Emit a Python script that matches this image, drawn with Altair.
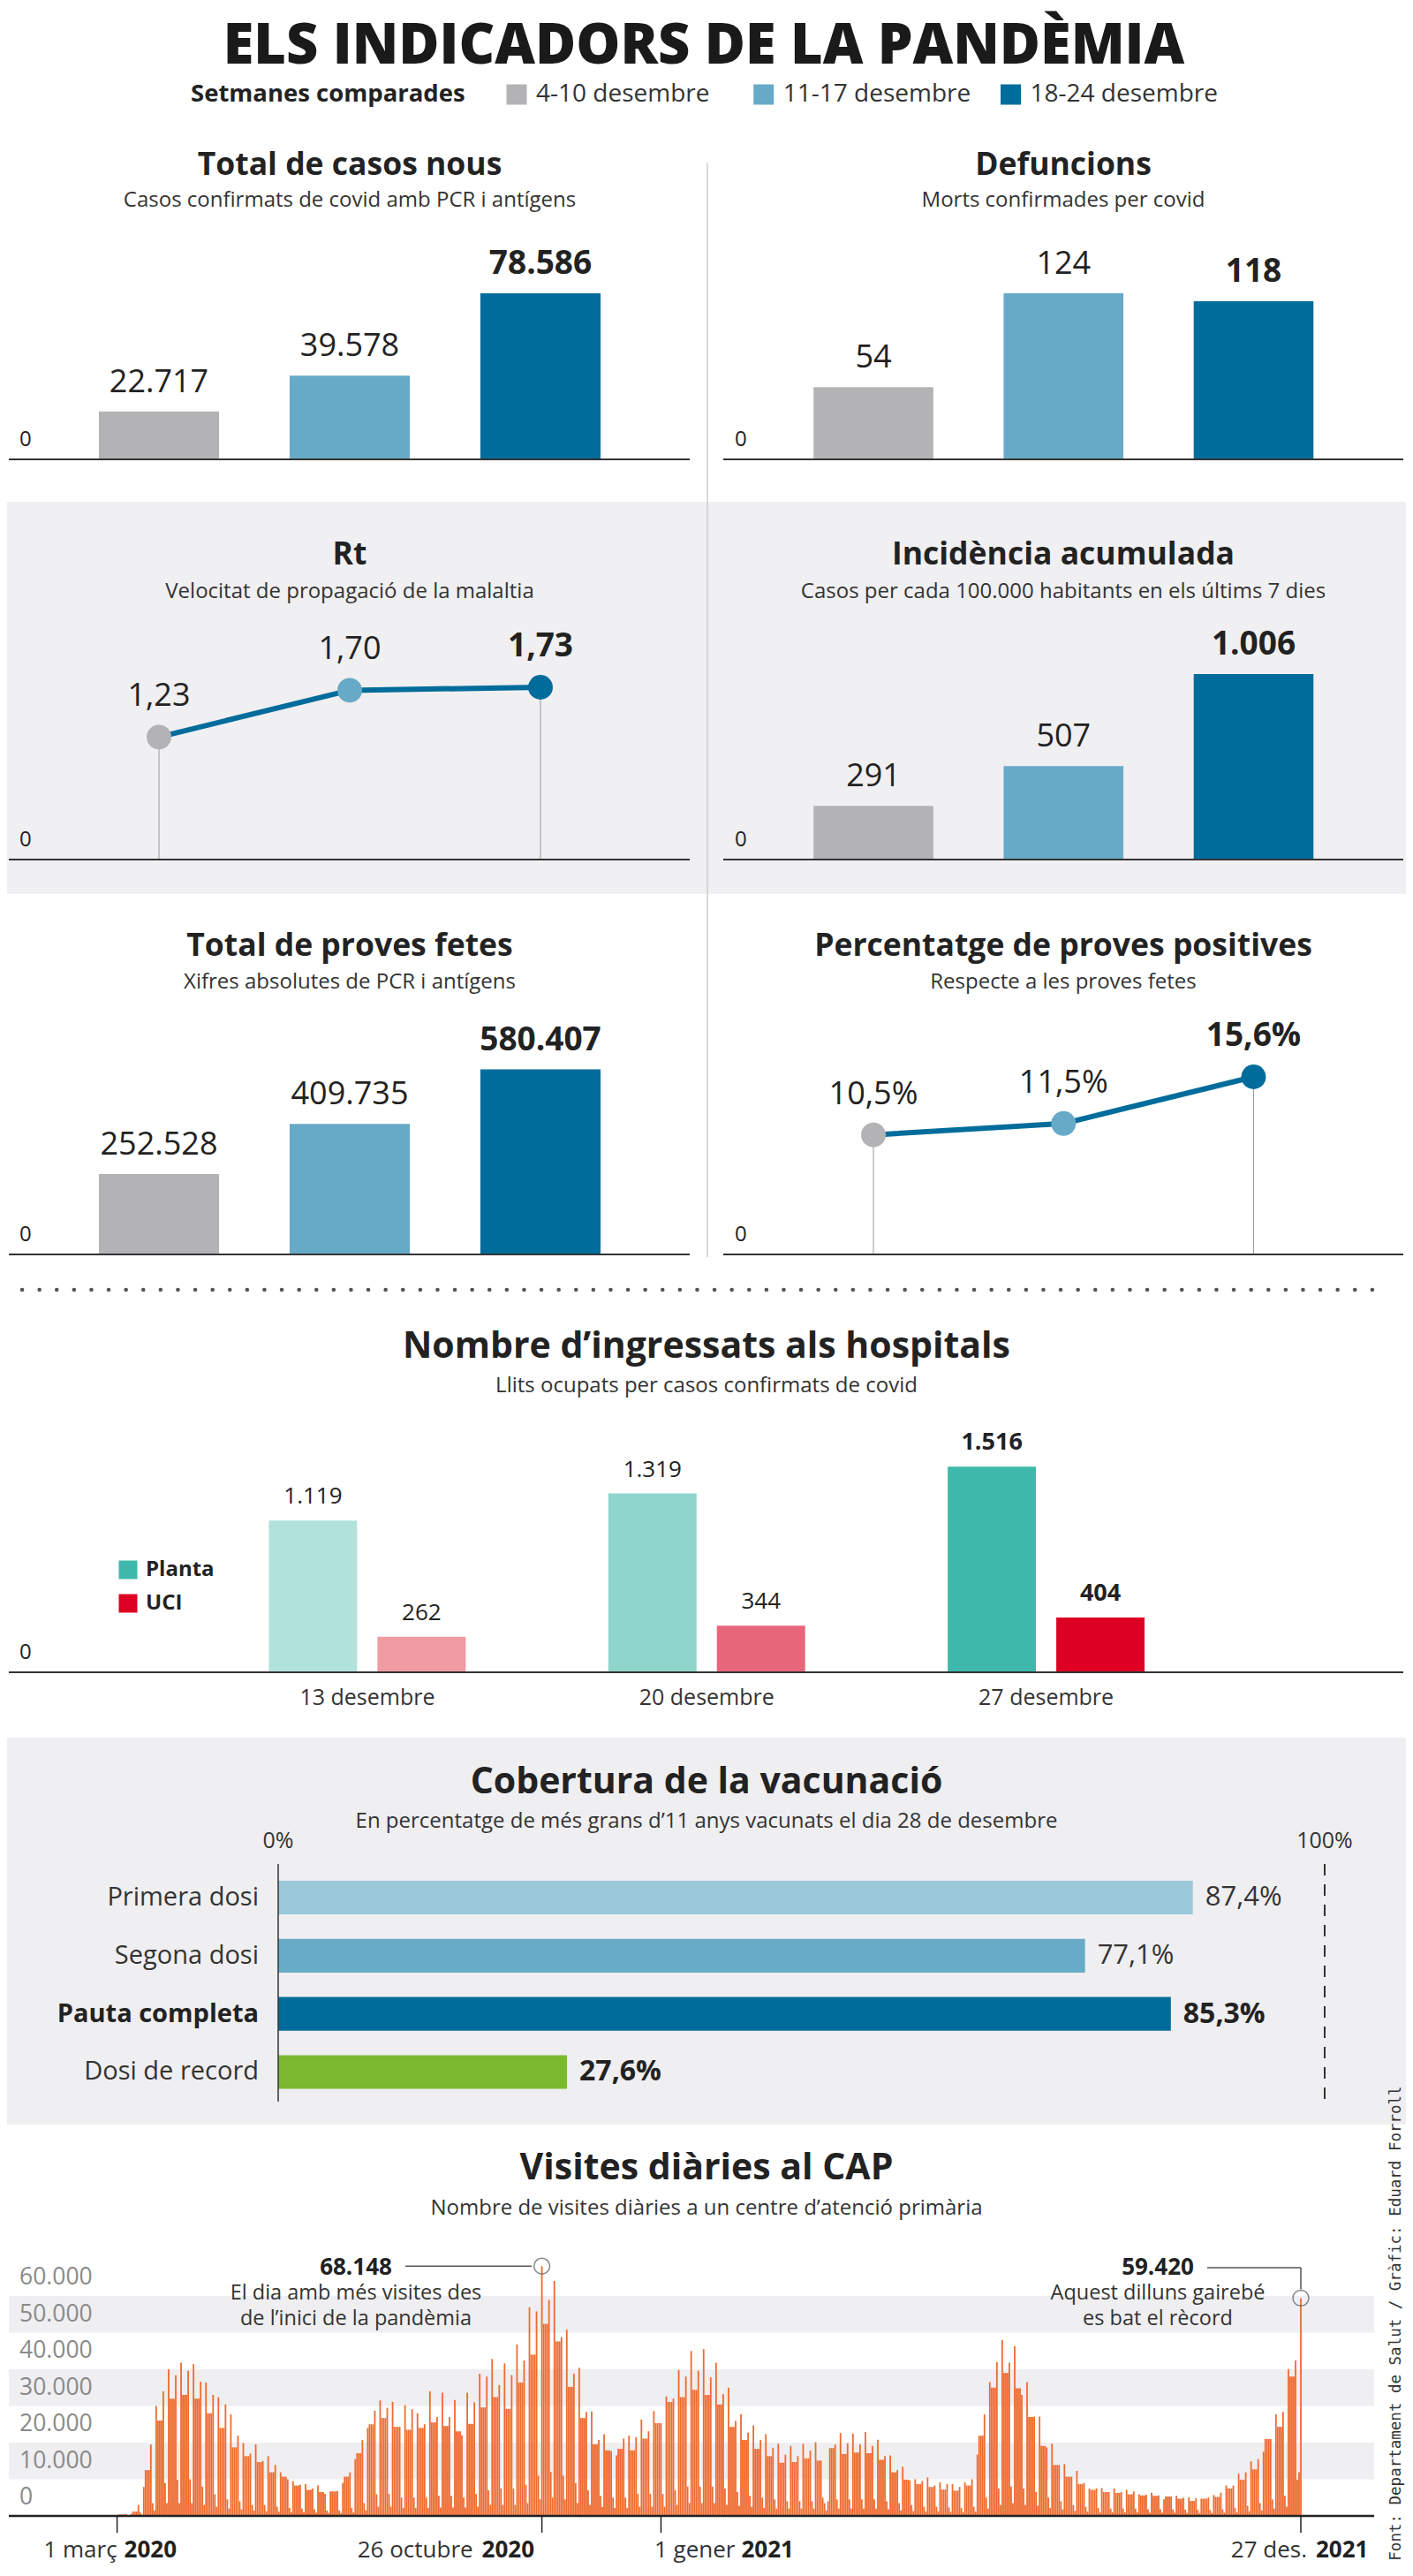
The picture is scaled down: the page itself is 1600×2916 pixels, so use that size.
import altair as alt
import pandas as pd
import datetime as dt

FONT = "Open Sans"
DARK = "#222222"

# ---------------- data ----------------
weeks = ["4-10 desembre", "11-17 desembre", "18-24 desembre"]
week_colors = ["#b3b2b5", "#67aac7", "#006c9c"]

casos = [22717, 39578, 78586]
defuncions = [54, 124, 118]
rt = [1.23, 1.70, 1.73]
incidencia = [291, 507, 1006]
proves = [252528, 409735, 580407]
positivitat = [10.5, 11.5, 15.6]

hosp_dates = ["13 desembre", "20 desembre", "27 desembre"]
hosp_series = ["Planta", "UCI"]
planta = [1119, 1319, 1516]
uci = [262, 344, 404]
planta_colors = ["#b2e2dc", "#8fd5cc", "#3eb8aa"]
uci_colors = ["#f09aa2", "#e86679", "#de0024"]

vac_cats = ["Primera dosi", "Segona dosi", "Pauta completa", "Dosi de record"]
vac_vals = [87.4, 77.1, 85.3, 27.6]
vac_colors = ["#9ac7da", "#67abc6", "#006c9c", "#7bb92f"]

# daily CAP visits, read week by week (thousands): Monday, Tue-Thu, Friday, Saturday, Sunday
cap_first_sunday = 0.1          # Sun 1 March 2020
cap_last_monday = 59.42         # Mon 27 December 2021
cap_mon = [0.4, 0.6, 7.9, 30, 40, 41.8, 41.4, 36.4, 32.4, 27.7,
           19.9, 19.5, 16.3, 11.9, 9.5, 8.7, 8.3, 6.7, 9.0, 15.5,
           24, 31.5, 31.1, 30.2, 28, 34, 33.6, 31.6, 33.6, 38.8,
           42.8, 41.6, 46.8, 56.9, 68.148, 64.1, 50.8, 40.4, 28.5, 22.3,
           16.5, 21.9, 26.3, 28.6, 32.6, 39.8, 45, 45.5, 41.8, 35,
           27.7, 24.7, 22.3, 19.7, 19.1, 19.7, 20.1, 4, 22.6, 22.5,
           22.9, 20.8, 16.5, 13.4, 10, 10.5, 9.2, 8.7, 9.2, 16.7,
           36.5, 48, 46.3, 36.5, 27.1, 19.7, 14.1, 12.3, 7.5, 7.6,
           7.5, 7.1, 5.9, 6.3, 4.5, 5.5, 5.1, 4.7, 5.7, 8.3,
           11.5, 14.9, 17.5, 27.7, 40]
cap_mid = [0.4, 1.2, 12.5, 26, 32, 33, 32, 28, 24, 18.7,
           16.3, 14.7, 11.9, 10.7, 8.3, 7.1, 6.5, 6.7, 10.7, 17.1,
           25, 26.7, 24.3, 23.5, 24, 25.5, 24.5, 23.1, 25.1, 29.6,
           32.4, 29.2, 36.4, 44, 52.4, 47.6, 35.2, 26.7, 19.5, 17.9,
           18.3, 17.9, 21.1, 25.3, 31.1, 32.4, 34.4, 33, 30.4, 24.3,
           20.7, 18.3, 16.3, 14.5, 14.7, 15.7, 15.1, 18.5, 16.9, 17.3,
           17.1, 15.3, 11.9, 9.9, 8.7, 7.9, 7.2, 6.9, 8.3, 21.9,
           35, 39, 34.8, 27, 19.1, 13.9, 10.7, 8.7, 7.1, 6.5,
           6.3, 5.9, 5.6, 5.5, 5.3, 4.7, 4.1, 4.7, 5.2, 7.5,
           9.9, 12.7, 21, 24.3, 38]
cap_fri = [0.5, 3.0, 19.5, 34, 38.4, 39.6, 36.6, 33, 30.4, 21.9,
           17, 15, 13.9, 10, 8.5, 7.5, 6.0, 6.8, 11.9, 20.7,
           28.7, 29.5, 24.3, 29.1, 25, 27, 27, 22, 31, 38,
           35.7, 38.4, 42.4, 55.8, 58.9, 48.8, 38.8, 28.4, 20.7, 17.7,
           21.1, 21.5, 23.1, 25.3, 32, 38, 39.6, 37.8, 33.2, 25.9,
           22.7, 20.7, 18.6, 16.7, 16.3, 17.8, 5, 19.5, 19.8, 19.5,
           19.1, 16.3, 12.5, 9.7, 9.5, 8.3, 8.7, 7.9, 10, 27.7,
           42, 41.8, 33, 27.1, 18.7, 13.9, 10.7, 9, 7.5, 6.5,
           6.5, 6.7, 5.8, 5.6, 5.3, 5.0, 4.8, 5.0, 6.3, 8.3,
           11.9, 15.5, 21, 28.4, 42.4]
cap_sat = [0.2, 1.0, 3.5, 9, 9.9, 10, 8, 5.9, 4.5, 4,
           3, 3, 2.5, 2.2, 2, 1.8, 1.5, 1.5, 2.2, 3.5,
           5.9, 6, 5, 5, 5, 5.5, 5.5, 5, 6, 7,
           7.5, 7.5, 8.5, 11, 12, 11, 9, 7, 5.5, 5,
           5, 6, 6, 6, 7, 8, 8, 8, 7.5, 6.5,
           5.5, 5, 4.5, 4, 4, 4, 3.5, 4.5, 4.5, 4.5,
           4.5, 4, 3.5, 3, 2.5, 2.5, 2.3, 2.2, 2.5, 5,
           7.5, 8, 7.5, 6.5, 5, 4, 3, 2.5, 2.2, 2,
           2, 2, 1.8, 1.8, 1.8, 1.7, 1.6, 1.6, 1.8, 2.2,
           2.8, 3.5, 4.5, 5.5, 9.9]
cap_sun = [0.1, 0.4, 1.5, 3.5, 3.5, 3.5, 3, 2.5, 2, 1.8,
           1.5, 1.3, 1.2, 1, 1, 0.9, 0.8, 0.8, 1, 1.5,
           2.5, 2.5, 2.2, 2.2, 2.2, 2.3, 2.3, 2.3, 2.5, 3,
           3, 3, 3.5, 4.5, 5, 4.5, 3.5, 3, 2.5, 2.2,
           2.2, 2.5, 2.5, 2.5, 3, 3.5, 3.5, 3.5, 3, 2.8,
           2.5, 2.2, 2, 2, 2, 2, 1.5, 2, 2, 2,
           2, 1.8, 1.5, 1.3, 1.2, 1.2, 1.1, 1, 1.2, 2,
           3, 3.5, 3, 2.8, 2.2, 1.8, 1.4, 1.2, 1, 1,
           1, 1, 0.9, 0.9, 0.9, 0.8, 0.8, 0.8, 0.9, 1,
           1.3, 1.5, 2, 2.5, 11.9]
cap_ticks = [0, 10000, 20000, 30000, 40000, 50000, 60000]
cap_bands_lo = [10000, 30000, 50000]
cap_bands_hi = [20000, 40000, 60000]
cap_tick_dates = ["2020-03-01", "2020-10-26", "2021-01-01", "2021-12-27"]
cap_tick_text = ["1 març", "26 octubre", "1 gener", "27 des."]
cap_tick_year = ["2020", "2020", "2021", "2021"]
ann_dates = ["2020-10-26", "2021-12-27"]
ann_vals = [68148, 59420]


def cat_num(v, dec=0):
    s = f"{v:,.{dec}f}"
    return s.replace(",", "X").replace(".", ",").replace("X", ".")


# daily table
daily = [cap_first_sunday]
for w in range(len(cap_mon)):
    daily += [cap_mon[w], cap_mid[w], cap_mid[w], cap_mid[w], cap_fri[w], cap_sat[w], cap_sun[w]]
daily.append(cap_last_monday)
start = dt.date(2020, 3, 1)
cap_df = pd.DataFrame({
    "date": [(start + dt.timedelta(days=i)).isoformat() for i in range(len(daily))],
    "v": [round(x * 1000) for x in daily],
})


# ---------------- helpers ----------------
def T(text, x, y, size, weight="normal", color=DARK, align="center", baseline="middle", font=FONT, angle=0):
    kw = dict(align=align, baseline=baseline, fontSize=size, fontWeight=weight, color=color, font=font)
    if angle:
        kw["angle"] = angle
    return alt.Chart(pd.DataFrame({"t": [text]})).mark_text(**kw).encode(
        x=alt.value(x), y=alt.value(y), text="t:N")


def R(x1, x2, y1, y2, color, width, dash=None, cap=None):
    kw = dict(color=color, strokeWidth=width)
    if dash:
        kw["strokeDash"] = dash
    if cap:
        kw["strokeCap"] = cap
    enc = dict(x=alt.value(x1), y=alt.value(y1))
    if x2 is not None:
        enc["x2"] = alt.value(x2)
    if y2 is not None:
        enc["y2"] = alt.value(y2)
    return alt.Chart(pd.DataFrame({"a": [0]})).mark_rule(**kw).encode(**enc)


SEC_TITLE = 41
SUB = 24


def week_panel(kind, vals, labels, title, sub, ox, xr, yr, title_x, title_y, sub_y,
               axis_x, zero_x, sep=None):
    """One small panel; ox = horizontal offset of the panel inside its row."""
    df = pd.DataFrame({"week": weeks, "v": vals, "lab": labels, "i": [0, 1, 2], "zero": [0, 0, 0]})
    X = alt.X("week:N", sort=weeks, axis=None,
              scale=alt.Scale(domain=weeks, range=[ox + xr[0], ox + xr[1]],
                              paddingInner=0.37, paddingOuter=0.185))
    ysc = alt.Scale(domain=[0, max(vals)], range=yr, nice=False, zero=True)
    Y = alt.Y("v:Q", scale=ysc, axis=None)
    C = alt.Color("week:N", scale=alt.Scale(domain=weeks, range=week_colors), legend=None)
    base = alt.Chart(df)
    layers = []
    if sep:
        layers.append(R(ox, None, sep[0], sep[1], "#cccccc", 1.5))
    layers.append(T(title, ox + title_x, title_y, 35.5, "bold"))
    layers.append(T(sub, ox + title_x, sub_y, SUB, color="#333333"))
    if kind == "bar":
        layers.append(base.mark_bar().encode(x=X, y=Y, color=C))
        dy = -33
    else:
        layers.append(base.mark_rule(color="#999999", strokeWidth=1).encode(
            x=X, y=Y, y2="zero:Q").transform_filter("datum.i != 1"))
        layers.append(base.mark_line(color="#006c9c", strokeWidth=6).encode(x=X, y=Y))
        layers.append(base.mark_point(filled=True, size=780, opacity=1).encode(x=X, y=Y, color=C))
        dy = -46
    layers.append(base.mark_text(fontSize=36, baseline="middle", dy=dy, color=DARK).encode(
        x=X, y=Y, text="lab:N").transform_filter("datum.i < 2"))
    layers.append(base.mark_text(fontSize=37, fontWeight="bold", baseline="middle", dy=dy, color=DARK).encode(
        x=X, y=Y, text="lab:N").transform_filter("datum.i == 2"))
    layers.append(R(ox + axis_x[0], ox + axis_x[1], yr[0], None, "#333333", 2))
    layers.append(T("0", ox + zero_x, yr[0] - 22, 24, align="left"))
    return alt.layer(*layers)


def week_row(left, right, H, bg=None):
    ch = alt.layer(left, right).resolve_scale(x="independent", y="independent").properties(width=1584, height=H)
    if bg:
        ch = ch.properties(view=alt.ViewBackground(fill=bg, stroke=None))
    return ch


GRAY_BG = "#f0eff1"
RO = 793  # x where the right-hand panel starts

# ---------------- header ----------------
leg_df = pd.DataFrame({"week": weeks})
LX = alt.X("week:N", sort=weeks, axis=None,
           scale=alt.Scale(type="point", domain=weeks, range=[577, 1136.5], padding=0))
LC = alt.Color("week:N", scale=alt.Scale(domain=weeks, range=week_colors), legend=None)
header = alt.layer(
    T("ELS INDICADORS DE LA PANDÈMIA", 789, 45, 63, 800, color="#1a1a1a"),
    T("Setmanes comparades", 208, 99, 27.5, "bold", align="left"),
    alt.Chart(leg_df).mark_square(size=529, opacity=1).encode(x=LX, y=alt.value(99), color=LC),
    alt.Chart(leg_df).mark_text(align="left", dx=22, fontSize=28, baseline="middle", color="#333333").encode(
        x=LX, y=alt.value(99), text="week:N"),
).properties(width=1584, height=132)

# ---------------- rows of small panels ----------------
LXR = [64, 712]
RXR = [80.4, 726.1]
row1 = week_row(
    week_panel("bar", casos, [cat_num(v) for v in casos], "Total de casos nous",
               "Casos confirmats de covid amb PCR i antígens", 0, LXR, [380, 192],
               388, 47, 87, (2, 773), 14),
    week_panel("bar", defuncions, [cat_num(v) for v in defuncions], "Defuncions",
               "Morts confirmades per covid", RO, RXR, [380, 192],
               403, 47, 87, (18, 788), 31, sep=(44, 428)),
    428)
row2 = week_row(
    week_panel("line", rt, [cat_num(v, 2) for v in rt], "Rt",
               "Velocitat de propagació de la malaltia", 0, LXR, [405, 210],
               388, 60, 102, (2, 773), 14),
    week_panel("bar", incidencia, [cat_num(v) for v in incidencia], "Incidència acumulada",
               "Casos per cada 100.000 habitants en els últims 7 dies", RO, RXR, [405, 195],
               403, 60, 102, (18, 788), 31, sep=(0, 444)),
    444, bg=GRAY_BG)
row3 = week_row(
    week_panel("bar", proves, [cat_num(v) for v in proves], "Total de proves fetes",
               "Xifres absolutes de PCR i antígens", 0, LXR, [408, 198.6],
               388, 59, 100, (2, 773), 14),
    week_panel("line", positivitat, [cat_num(v, 1) + "%" for v in positivitat], "Percentatge de proves positives",
               "Respecte a les proves fetes", RO, RXR, [408, 207],
               403, 59, 100, (18, 788), 31, sep=(0, 411)),
    428)

# ---------------- hospitals ----------------
hdf = pd.DataFrame({
    "date": hosp_dates * 2,
    "serie": ["Planta"] * 3 + ["UCI"] * 3,
    "v": planta + uci,
})
hdf["key"] = hdf["serie"] + " " + hdf["date"]
hdf["lab"] = [cat_num(v) for v in hdf["v"]]
hdf["last"] = hdf["date"] == hosp_dates[-1]
hkeys = [f"Planta {d}" for d in hosp_dates] + [f"UCI {d}" for d in hosp_dates]
HX = alt.X("date:N", sort=hosp_dates, axis=None,
           scale=alt.Scale(domain=hosp_dates, range=[215.75, 1368.75], paddingInner=0, paddingOuter=0))
HXO = alt.XOffset("serie:N", sort=hosp_series,
                  scale=alt.Scale(domain=hosp_series, paddingInner=0.187, paddingOuter=0.6565))
HY = alt.Y("v:Q", axis=None, scale=alt.Scale(domain=[0, max(planta)], range=[453, 220.3], nice=False, zero=True))
HC = alt.Color("key:N", scale=alt.Scale(domain=hkeys, range=planta_colors + uci_colors), legend=None)
hb = alt.Chart(hdf)
# legend swatches use the colour of the latest week of each series
hleg = pd.DataFrame({"serie": hosp_series, "key": [f"{s} {hosp_dates[-1]}" for s in hosp_series]})
HLY = alt.Y("serie:N", axis=None, scale=alt.Scale(type="point", domain=hosp_series, range=[337, 375], padding=0))
hosp = alt.layer(
    R(17, 1563, 20, None, "#555555", 4.5, dash=[0.1, 19.5], cap="round"),
    T("Nombre d’ingressats als hospitals", 792, 85, SEC_TITLE, "bold"),
    T("Llits ocupats per casos confirmats de covid", 792, 129, SUB, color="#333333"),
    hb.mark_bar().encode(x=HX, xOffset=HXO, y=HY, color=HC),
    hb.mark_text(fontSize=26, baseline="middle", dy=-27, color=DARK).encode(
        x=HX, xOffset=HXO, y=HY, text="lab:N").transform_filter("!datum.last"),
    hb.mark_text(fontSize=27, fontWeight="bold", baseline="middle", dy=-27, color=DARK).encode(
        x=HX, xOffset=HXO, y=HY, text="lab:N").transform_filter("datum.last"),
    alt.Chart(pd.DataFrame({"date": hosp_dates})).mark_text(fontSize=25, baseline="middle", color="#333333").encode(
        x=HX, y=alt.value(481.7), text="date:N"),
    alt.Chart(hleg).mark_square(size=441, opacity=1).encode(x=alt.value(137), y=HLY, color=HC),
    alt.Chart(hleg).mark_text(align="left", fontSize=24, fontWeight="bold", baseline="middle", color=DARK).encode(
        x=alt.value(157), y=HLY, text="serie:N"),
    R(2, 1581, 453, None, "#333333", 2),
    T("0", 14, 431, 24, align="left"),
).properties(width=1584, height=527)

# ---------------- vaccination ----------------
vdf = pd.DataFrame({"cat": vac_cats, "v": vac_vals,
                    "lab": [cat_num(v, 1) + "%" for v in vac_vals], "i": list(range(len(vac_cats)))})
vsc = alt.Scale(domain=[0, 100], range=[307, 1492], nice=False, zero=True)
VX = alt.X("v:Q", scale=vsc, axis=None)
VY = alt.Y("cat:N", sort=vac_cats, axis=None,
           scale=alt.Scale(domain=vac_cats, range=[148.1, 411.4], paddingInner=0.42, paddingOuter=0.21))
VC = alt.Color("cat:N", scale=alt.Scale(domain=vac_cats, range=vac_colors), legend=None)
vb = alt.Chart(vdf)
vax_df = pd.DataFrame({"v": [0, 100], "t": ["0%", "100%"]})
vacc = alt.layer(
    T("Cobertura de la vacunació", 792, 51, SEC_TITLE, "bold"),
    T("En percentatge de més grans d’11 anys vacunats el dia 28 de desembre", 792, 95, SUB, color="#333333"),
    alt.Chart(vax_df).mark_text(fontSize=25, baseline="middle", color="#333333").encode(
        x=alt.X("v:Q", scale=vsc, axis=None), y=alt.value(117), text="t:N"),
    alt.Chart(vax_df).mark_rule(color="#333333", strokeWidth=2, strokeDash=[13, 10]).encode(
        x=alt.X("v:Q", scale=vsc, axis=None), y=alt.value(143), y2=alt.value(412)).transform_filter("datum.v == 100"),
    vb.mark_bar().encode(x=VX, y=VY, color=VC),
    alt.Chart(vax_df).mark_rule(color="#333333", strokeWidth=1.5).encode(
        x=alt.X("v:Q", scale=vsc, axis=None), y=alt.value(143), y2=alt.value(412)).transform_filter("datum.v == 0"),
    vb.mark_text(align="right", fontSize=29, baseline="middle", color="#333333").encode(
        x=alt.value(285), y=VY, text="cat:N").transform_filter("datum.i != 2"),
    vb.mark_text(align="right", fontSize=29, fontWeight="bold", baseline="middle", color=DARK).encode(
        x=alt.value(285), y=VY, text="cat:N").transform_filter("datum.i == 2"),
    vb.mark_text(align="left", dx=14, fontSize=31, baseline="middle", color="#333333").encode(
        x=VX, y=VY, text="lab:N").transform_filter("datum.i < 2"),
    vb.mark_text(align="left", dx=14, fontSize=32, fontWeight="bold", baseline="middle", color=DARK).encode(
        x=VX, y=VY, text="lab:N").transform_filter("datum.i >= 2"),
).properties(width=1584, height=438, view=alt.ViewBackground(fill="#efeef0", stroke=None))

# ---------------- CAP daily visits ----------------
csc_x = alt.Scale(type="utc",
                  domain=[alt.DateTime(year=2020, month=3, date=1, utc=True),
                          alt.DateTime(year=2021, month=12, date=27, utc=True)],
                  range=[119.6, 1470])
csc_y = alt.Scale(domain=[0, 60000], range=[443, 194], nice=False, zero=True)
CX = alt.X("date:T", scale=csc_x, axis=None)
CY = alt.Y("v:Q", scale=csc_y, axis=None)
band_df = pd.DataFrame({"lo": cap_bands_lo, "hi": cap_bands_hi})
ylab_df = pd.DataFrame({"v": cap_ticks, "t": [cat_num(v) for v in cap_ticks]})
tick_df = pd.DataFrame({"date": cap_tick_dates, "t": cap_tick_text, "y": cap_tick_year,
                        "i": list(range(len(cap_tick_dates)))})
ann_df = pd.DataFrame({"date": ann_dates, "v": ann_vals, "i": [0, 1]})

tick_layers = []
dx_norm = [0, -78, 84, 7]
dx_bold = [8, -68, 91, 17]
for i in range(len(cap_tick_dates)):
    tb = alt.Chart(tick_df).transform_filter(f"datum.i == {i}")
    tick_layers.append(tb.mark_text(align="right", dx=dx_norm[i], fontSize=26, baseline="middle", color="#333333").encode(
        x=CX, y=alt.value(482), text="t:N"))
    tick_layers.append(tb.mark_text(align="left", dx=dx_bold[i], fontSize=26, fontWeight="bold", baseline="middle",
                                    color=DARK).encode(x=CX, y=alt.value(482), text="y:N"))

ab = alt.Chart(ann_df)
cap = alt.layer(
    T("Visites diàries al CAP", 792, 50, SEC_TITLE, "bold"),
    T("Nombre de visites diàries a un centre d’atenció primària", 792, 95, SUB, color="#333333"),
    alt.Chart(band_df).mark_rect(color="#efeef1").encode(
        x=alt.value(2), x2=alt.value(1548),
        y=alt.Y("lo:Q", scale=csc_y, axis=None), y2="hi:Q"),
    alt.Chart(ylab_df).mark_text(align="left", fontSize=26.5, baseline="middle", dy=-21, color="#8a8a8a").encode(
        x=alt.value(14), y=alt.Y("v:Q", scale=csc_y, axis=None), text="t:N"),
    alt.Chart(cap_df).mark_bar(size=1.8, color="#ee6b2f").encode(x=CX, y=CY),
    R(2, 1548, 443, None, "#222222", 2.5),
    alt.Chart(tick_df).mark_rule(color="#222222", strokeWidth=1.5).encode(
        x=CX, y=alt.value(443), y2=alt.value(462)),
    *tick_layers,
    ab.mark_point(shape="circle", filled=False, size=320, color="#555555", strokeWidth=1.5).encode(x=CX, y=CY),
    ab.mark_rule(color="#555555", strokeWidth=1.5).encode(
        x=alt.value(451), x2=alt.value(594), y=CY).transform_filter("datum.i == 0"),
    ab.mark_rule(color="#555555", strokeWidth=1.5).encode(
        x=CX, x2=alt.value(1359), y=alt.value(162)).transform_filter("datum.i == 1"),
    ab.mark_rule(color="#555555", strokeWidth=1.5).encode(
        x=CX, y=alt.value(162), y2=alt.value(186.5)).transform_filter("datum.i == 1"),
    T("68.148", 395, 162, 26, "bold"),
    T("El dia amb més visites des", 395, 191, 23.5, color="#333333"),
    T("de l’inici de la pandèmia", 395, 220, 23.5, color="#333333"),
    T("59.420", 1303, 162, 26, "bold"),
    T("Aquest dilluns gairebé", 1303, 191, 23.5, color="#333333"),
    T("es bat el rècord", 1303, 220, 23.5, color="#333333"),
    T("Font: Departament de Salut / Gràfic: Eduard Forroll", 1573, 225, 17.5,
      font="DejaVu Sans Mono", angle=270, color="#333333"),
).properties(width=1584, height=503)

chart = alt.vconcat(header, row1, row2, row3, hosp, vacc, cap, spacing=0, bounds="flush").resolve_scale(
    color="independent"
).properties(
    padding=0, background="white"
).configure(font=FONT).configure_view(stroke=None)

chart.save("out.html", embed_options={"renderer": "svg", "actions": False})
